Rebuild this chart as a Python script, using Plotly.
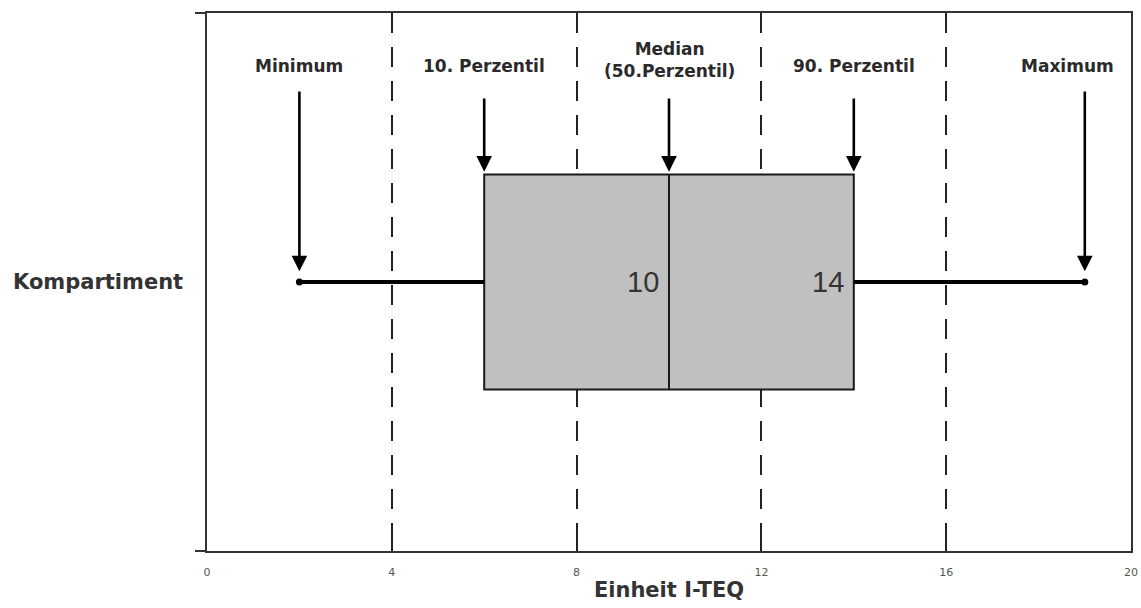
import plotly.graph_objects as go

# box-plot statistics (Einheit I-TEQ)
stat_names = ["Minimum", "10. Perzentil", "Median<br>(50.Perzentil)", "90. Perzentil", "Maximum"]
stat_values = [2, 6, 10, 14, 19]
box_label = "Kompartiment"
x_ticks = [0, 4, 8, 12, 16, 20]

mn, q1, med, q3, mx = stat_values
ypos = 0.5

fig = go.Figure()

fig.add_trace(
    go.Box(
        y=[ypos],
        q1=[q1],
        median=[med],
        q3=[q3],
        lowerfence=[mn],
        upperfence=[mx],
        orientation="h",
        width=0.4,
        whiskerwidth=0,
        fillcolor="#c0c0c0",
        line=dict(color="#1a1a1a", width=2),
        hoverinfo="skip",
        showlegend=False,
    )
)

# thick whiskers on top of the box trace
fig.add_trace(
    go.Scatter(
        x=[mn, q1, None, q3, mx],
        y=[ypos, ypos, None, ypos, ypos],
        mode="lines",
        line=dict(color="black", width=4),
        hoverinfo="skip",
        showlegend=False,
    )
)
fig.add_trace(
    go.Scatter(
        x=[mn, mx],
        y=[ypos, ypos],
        mode="markers",
        marker=dict(color="black", size=7),
        hoverinfo="skip",
        showlegend=False,
    )
)

label_font = dict(family="DejaVu Sans", size=17, color="#2a2a2a")
annotations = []
for name, val in zip(stat_names, stat_values):
    long_arrow = val in (mn, mx)
    head_y = 0.52 if long_arrow else 0.705
    tail_y = 0.857 if long_arrow else 0.844
    annotations.append(
        dict(
            x=val, y=head_y, ax=val, ay=tail_y,
            xref="x", yref="y", axref="x", ayref="y",
            text="", showarrow=True,
            arrowhead=2, arrowsize=1.2, arrowwidth=2.6, arrowcolor="black",
            standoff=0,
        )
    )
    annotations.append(
        dict(
            x=val, y=0.913 if "<br>" in name else 0.901,
            xref="x", yref="y",
            text="<b>%s</b>" % name, showarrow=False,
            font=label_font, xanchor="center", yanchor="middle",
            xshift=-17 if val == mx else 0,
        )
    )

# value labels inside the box
for val in (med, q3):
    annotations.append(
        dict(
            x=val, y=ypos, xref="x", yref="y",
            text=str(val), showarrow=False,
            font=dict(family="Liberation Sans", size=29, color="#333"),
            xanchor="right", yanchor="middle", xshift=-8,
        )
    )

annotations.append(
    dict(
        x=-0.212, y=ypos, xref="paper", yref="y",
        text="<b>%s</b>" % box_label, showarrow=False,
        font=dict(family="DejaVu Sans", size=21, color="#333"),
        xanchor="left", yanchor="middle",
    )
)

fig.update_layout(
    width=1141,
    height=608,
    margin=dict(l=207, r=10, t=13, b=57),
    plot_bgcolor="white",
    paper_bgcolor="white",
    showlegend=False,
    annotations=annotations,
    xaxis=dict(
        range=[0, 20],
        tickvals=x_ticks,
        ticks="inside",
        ticklen=12,
        tickwidth=2,
        tickcolor="#222",
        tickfont=dict(family="DejaVu Sans", size=11, color="#555"),
        ticklabelstandoff=10,
        ticklabeloverflow="allow",
        showgrid=True,
        gridcolor="#222",
        gridwidth=1.6,
        griddash="20px,14px",
        showline=True,
        linecolor="#333",
        linewidth=2,
        mirror=True,
        zeroline=False,
        automargin=False,
        title=dict(
            text="<b>Einheit I-TEQ</b>",
            font=dict(family="DejaVu Sans", size=21, color="#333"),
            standoff=4,
        ),
    ),
    yaxis=dict(
        range=[0, 1],
        tickvals=[0, 1],
        ticks="outside",
        ticklen=10,
        tickwidth=2,
        tickcolor="#333",
        showticklabels=False,
        showgrid=False,
        zeroline=False,
        showline=True,
        linecolor="#333",
        linewidth=2,
        mirror=True,
        automargin=False,
    ),
)

# page body margin off so the figure fills the window exactly
fig.write_html(
    "out.html",
    config={"displayModeBar": False},
    post_script="document.body.style.margin='0';",
)
